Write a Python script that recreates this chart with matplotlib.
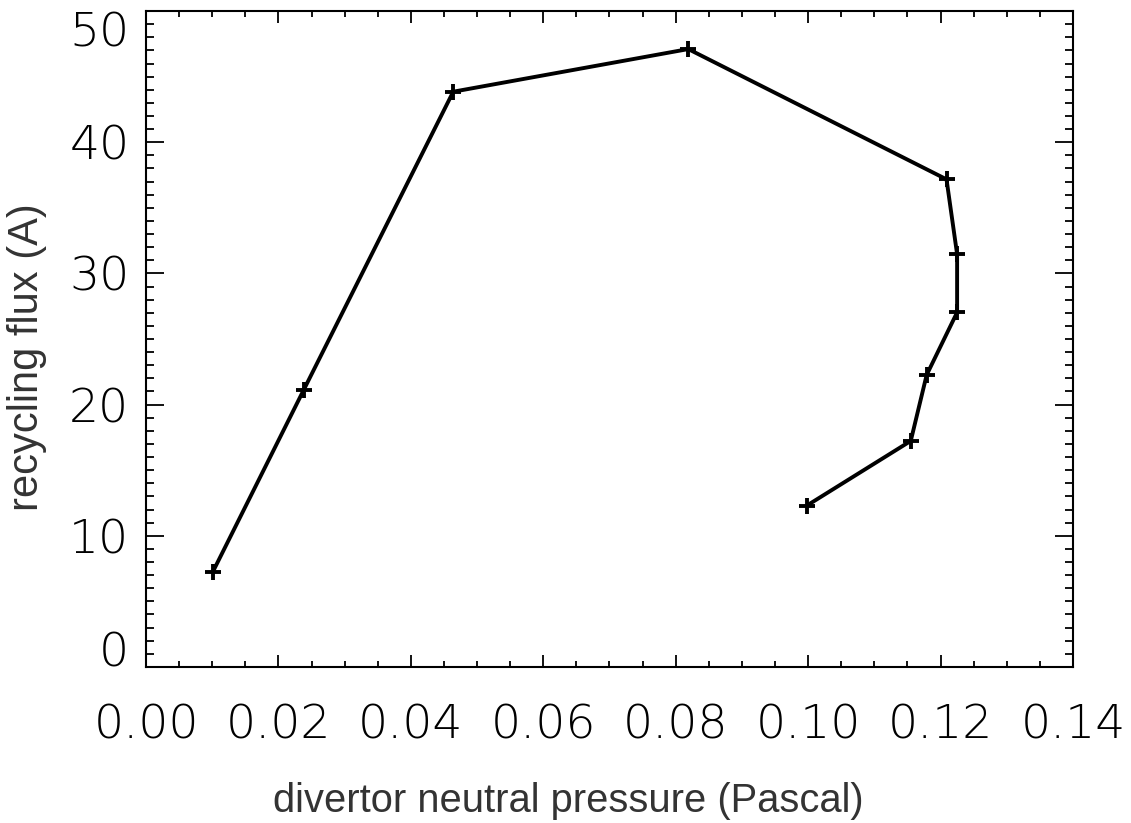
import matplotlib
matplotlib.use('Agg')
import matplotlib.pyplot as plt
from matplotlib.ticker import MultipleLocator, FormatStrFormatter

# divertor neutral pressure (Pascal) vs recycling flux (A)
pressure = [0.0101, 0.0238, 0.0464, 0.0819, 0.1209, 0.1225, 0.1225, 0.1179, 0.1155, 0.0998]
flux = [7.26, 21.1, 43.85, 47.1, 37.17, 31.46, 27.03, 22.26, 17.23, 12.3]

xticks = [0.00, 0.02, 0.04, 0.06, 0.08, 0.10, 0.12, 0.14]
yticks = [0, 10, 20, 30, 40, 50]

fig = plt.figure(figsize=(11.31, 8.23), dpi=100)
ax = fig.add_axes([0.1291, 0.1896, 0.8196, 0.797])

ax.plot(pressure, flux, color='black', linewidth=2.8, marker='+',
        markersize=12, markeredgewidth=2.8)

ax.set_xlim(0, 0.14)
ax.set_ylim(0, 50)
ax.set_xticks(xticks)
ax.set_yticks(yticks)
ax.xaxis.set_minor_locator(MultipleLocator(0.005))
ax.yaxis.set_minor_locator(MultipleLocator(1))
ax.xaxis.set_major_formatter(FormatStrFormatter('%.2f'))

ax.tick_params(axis='both', which='both', direction='in', top=True, right=True,
               width=1.3, labelsize=34)
ax.tick_params(axis='x', which='major', length=8.6, pad=26)
ax.tick_params(axis='x', which='minor', length=4.5)
ax.tick_params(axis='y', which='major', length=13, pad=12)
ax.tick_params(axis='y', which='minor', length=5.8)
for sp in ax.spines.values():
    sp.set_linewidth(1.5)

for lbl in ax.get_xticklabels() + ax.get_yticklabels():
    lbl.set_fontweight('light')

# end labels sit inside the axis range, as in the original
ylabels = ax.get_yticklabels()
ylabels[0].set_verticalalignment('baseline')
ylabels[-1].set_verticalalignment('top')

ax.set_xlabel('divertor neutral pressure (Pascal)', fontsize=28.7,
              family='Liberation Sans', color='#333333')
ax.set_ylabel('recycling flux (A)', fontsize=30,
              family='Liberation Sans', color='#333333')
ax.xaxis.set_label_coords(0.456, -0.1753)
ax.yaxis.set_label_coords(-0.107, 0.4726)

fig.savefig('out.png', dpi=100)
